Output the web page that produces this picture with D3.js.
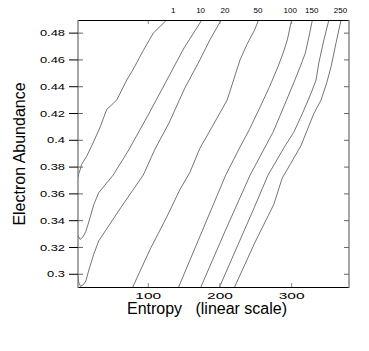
<!DOCTYPE html>
<html>
<head>
<meta charset="utf-8">
<script src="https://cdn.jsdelivr.net/npm/d3@7"></script>
<style>
  body { margin: 0; background: #fff; }
  text { font-family: "Liberation Sans", Arial, sans-serif; fill: #000; }
</style>
</head>
<body>
<div id="chart"></div>
<script>
// contour levels (entropy in linear scale, electron abundance)
var levels = ["1", "10", "20", "50", "100", "150", "200", "250"];

var s1 = [126, 107, 93, 79, 70, 56, 42, 33, 23, 14, 7, 5, 3, 2];
var ye1 = [0.490, 0.480, 0.467, 0.453, 0.445, 0.430, 0.423, 0.410, 0.398, 0.388, 0.382, 0.378, 0.375, 0.372];

var s10 = [175, 150, 129, 101, 73, 51, 31, 24, 17, 13, 9, 5, 2];
var ye10 = [0.490, 0.469, 0.448, 0.420, 0.393, 0.374, 0.361, 0.352, 0.339, 0.332, 0.328, 0.326, 0.329];

var s20 = [202, 186, 172, 151, 129, 109, 93, 62, 31, 24, 17, 13, 9, 5.5, 3, 2];
var ye20 = [0.490, 0.475, 0.460, 0.439, 0.413, 0.393, 0.374, 0.350, 0.325, 0.315, 0.303, 0.295, 0.292, 0.291, 0.294, 0.299];

var s50 = [254, 248, 238, 228, 210, 189, 172, 158, 144, 126, 102, 78];
var ye50 = [0.490, 0.482, 0.472, 0.460, 0.430, 0.410, 0.394, 0.376, 0.363, 0.343, 0.318, 0.290];

var s100 = [300, 294, 288, 281, 270, 257, 241, 228, 208, 175, 142];
var ye100 = [0.490, 0.475, 0.465, 0.455, 0.441, 0.426, 0.408, 0.395, 0.374, 0.332, 0.290];

var s150 = [329, 324, 319, 312, 303, 289, 274, 264, 242, 207, 173];
var ye150 = [0.490, 0.477, 0.465, 0.455, 0.443, 0.425, 0.406, 0.396, 0.374, 0.332, 0.290];

var s200 = [352, 345, 338, 334, 327, 315, 303, 291, 267, 248, 199];
var ye200 = [0.490, 0.475, 0.458, 0.445, 0.435, 0.420, 0.406, 0.396, 0.374, 0.350, 0.290];

var s250 = [369, 362, 355, 349, 341, 331, 313, 298, 287, 275, 249, 220];
var ye250 = [0.490, 0.473, 0.455, 0.443, 0.430, 0.420, 0.396, 0.382, 0.372, 0.352, 0.324, 0.290];

// labels written above the top frame (200 has none)
var topLabels = ["1", "10", "20", "50", "100", "150", "250"];
var topLabelEntropy = [135, 173, 207, 253, 298, 328, 368];

// axis ticks
var xTicks = [100, 200, 300];
var yTicks = [0.30, 0.32, 0.34, 0.36, 0.38, 0.40, 0.42, 0.44, 0.46, 0.48];
var yTickLabels = ["0.3", "0.32", "0.34", "0.36", "0.38", "0.4", "0.42", "0.44", "0.46", "0.48"];

var width = 369;
var height = 351;

var svg = d3
  .select("#chart")
  .append("svg")
  .attr("width", width)
  .attr("height", height);

svg.append("rect").attr("width", width).attr("height", height).attr("fill", "#fff");

// plot box
var boxLeft = 78, boxRight = 349, boxTop = 20, boxBottom = 287;

var xScale = d3.scaleLinear().domain([2, 380]).range([boxLeft, boxRight]);
var yScale = d3.scaleLinear().domain([0.2905, 0.4898]).range([boxBottom, boxTop]);

svg.append("clipPath").attr("id", "plotClip")
  .append("rect")
  .attr("x", boxLeft).attr("y", boxTop)
  .attr("width", boxRight - boxLeft).attr("height", boxBottom - boxTop);

// contour lines
var curves = [
  [s1, ye1], [s10, ye10], [s20, ye20], [s50, ye50],
  [s100, ye100], [s150, ye150], [s200, ye200], [s250, ye250]
];

var line = d3.line()
  .x(function(d) { return xScale(d[0]); })
  .y(function(d) { return yScale(d[1]); });

svg.append("g")
  .attr("clip-path", "url(#plotClip)")
  .selectAll("path")
  .data(curves)
  .enter()
  .append("path")
  .attr("class", function(d, i) { return "contour c" + levels[i]; })
  .attr("d", function(d) { return line(d3.zip(d[0], d[1])); })
  .attr("fill", "none")
  .attr("stroke", "#3a3a3a")
  .attr("stroke-width", 0.7);

// frame
svg.append("line").attr("x1", boxLeft).attr("x2", boxRight).attr("y1", boxTop + 0.5).attr("y2", boxTop + 0.5)
  .attr("stroke", "#000");
svg.append("line").attr("x1", boxLeft).attr("x2", boxRight).attr("y1", boxBottom + 0.5).attr("y2", boxBottom + 0.5)
  .attr("stroke", "#000");
svg.append("line").attr("x1", boxLeft).attr("x2", boxLeft).attr("y1", boxTop).attr("y2", boxBottom + 1)
  .attr("stroke", "#777").attr("stroke-width", 1.3);
svg.append("line").attr("x1", boxRight).attr("x2", boxRight).attr("y1", boxTop).attr("y2", boxBottom + 1)
  .attr("stroke", "#777").attr("stroke-width", 1.3);

// y ticks, both sides
yTicks.forEach(function(v, i) {
  var yy = yScale(v);
  svg.append("line").attr("x1", boxLeft - 9).attr("x2", boxLeft).attr("y1", yy).attr("y2", yy)
    .attr("stroke", "#000");
  svg.append("line").attr("x1", boxLeft).attr("x2", boxLeft + 5).attr("y1", yy).attr("y2", yy)
    .attr("stroke", "#666");
  svg.append("line").attr("x1", boxRight - 5).attr("x2", boxRight).attr("y1", yy).attr("y2", yy)
    .attr("stroke", "#666");
  svg.append("g")
    .attr("transform", "translate(65," + (yy + 3.1) + ")")
    .append("text")
    .attr("transform", "scale(1.5,1)")
    .attr("text-anchor", "end")
    .attr("font-size", "8.6px")
    .text(yTickLabels[i]);
});

// x ticks, bottom and top
xTicks.forEach(function(v) {
  var xx = xScale(v);
  svg.append("line").attr("x1", xx).attr("x2", xx).attr("y1", boxBottom - 4).attr("y2", boxBottom)
    .attr("stroke", "#888");
  svg.append("line").attr("x1", xx).attr("x2", xx).attr("y1", boxTop + 1).attr("y2", boxTop + 4)
    .attr("stroke", "#888");
  svg.append("g")
    .attr("transform", "translate(" + xx + ",298.5)")
    .append("text")
    .attr("transform", "scale(1.8,1)")
    .attr("text-anchor", "middle")
    .attr("font-size", "8.6px")
    .text(v);
});

// level labels above the frame
topLabels.forEach(function(t, i) {
  svg.append("g")
    .attr("transform", "translate(" + xScale(topLabelEntropy[i]) + ",13)")
    .append("text")
    .attr("transform", "scale(1.15,1)")
    .attr("text-anchor", "middle")
    .attr("font-size", "7px")
    .text(t);
});

// axis titles
svg.append("text")
  .attr("x", 207)
  .attr("y", 314)
  .attr("text-anchor", "middle")
  .attr("font-size", "16px")
  .style("white-space", "pre")
  .text("Entropy   (linear scale)");

svg.append("text")
  .attr("transform", "translate(25,154)rotate(-90)")
  .attr("text-anchor", "middle")
  .attr("font-size", "16px")
  .text("Electron Abundance");
</script>
</body>
</html>
